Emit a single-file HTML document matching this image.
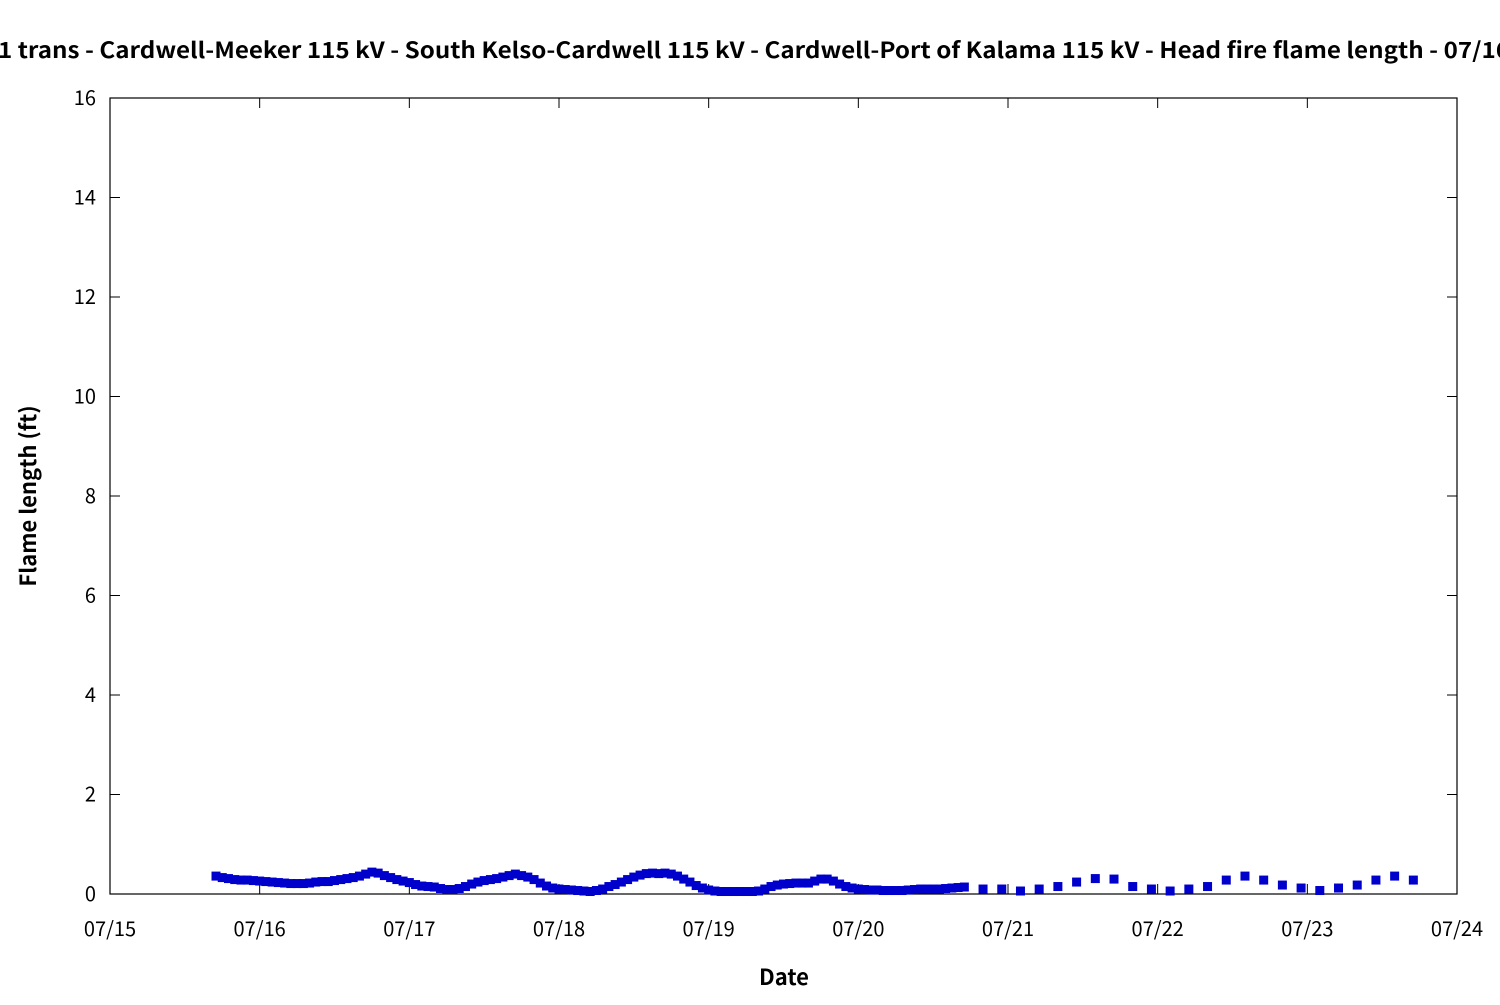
<!DOCTYPE html>
<html><head><meta charset="utf-8"><style>
body{margin:0;background:#fff;width:1500px;height:1000px;overflow:hidden}
svg text{font-family:"Noto Sans CJK JP","DejaVu Sans",sans-serif}
</style></head><body>
<svg width="1500" height="1000" xmlns="http://www.w3.org/2000/svg">
<text x="-2" y="58" font-size="22" font-weight="bold" textLength="1512" lengthAdjust="spacingAndGlyphs">1 trans - Cardwell-Meeker 115 kV - South Kelso-Cardwell 115 kV - Cardwell-Port of Kalama 115 kV - Head fire flame length - 07/16</text>
<g id="axes"></g><g id="pts"></g>
<text x="784" y="985" font-size="22" font-weight="bold" text-anchor="middle">Date</text>
<text transform="translate(36,496) rotate(-90)" font-size="22" font-weight="bold" text-anchor="middle">Flame length (ft)</text>
</svg>
<script>
const yTicks=[0,2,4,6,8,10,12,14,16];
const xTickLabels=["07/15","07/16","07/17","07/18","07/19","07/20","07/21","07/22","07/23","07/24"];
// hourly values from 07/15 17:00
const hourlyStartHour=17;
const hourlyValues=[0.36,0.33,0.31,0.29,0.28,0.28,0.27,
0.26,0.25,0.24,0.23,0.22,0.21,0.21,0.21,0.22,0.24,0.25,0.25,0.27,0.29,0.31,0.33,0.36,0.40,0.44,0.42,0.37,0.33,0.29,0.26,
0.23,0.19,0.16,0.15,0.14,0.11,0.09,0.09,0.11,0.15,0.2,0.24,0.27,0.29,0.31,0.34,0.37,0.40,0.37,0.34,0.29,0.22,0.16,0.12,
0.1,0.09,0.08,0.07,0.06,0.05,0.07,0.1,0.15,0.19,0.24,0.29,0.34,0.38,0.41,0.42,0.41,0.42,0.4,0.36,0.3,0.24,0.17,0.12,
0.08,0.06,0.05,0.05,0.05,0.05,0.05,0.05,0.06,0.1,0.15,0.18,0.2,0.21,0.22,0.22,0.22,0.26,0.3,0.3,0.26,0.2,0.15,0.12,
0.1,0.09,0.08,0.08,0.07,0.07,0.07,0.07,0.08,0.09,0.1,0.1,0.1,0.1,0.11,0.12,0.13,0.14];
// 3-hourly values from 07/20 20:00
const threeHourStartHour=5*24+20;
const threeHourValues=[0.1,0.1,0.06,0.1,0.15,0.24,0.31,0.3,0.15,0.1,0.06,0.1,0.15,0.28,0.36,0.28,0.18,0.12,0.07,0.12,0.18,0.28,0.36,0.28];
const L=110,R=1457,T=98,B=894;
const xS=h=>L+(R-L)*h/(9*24);
const yS=v=>B-(B-T)*v/16;
const NS="http://www.w3.org/2000/svg";
const ax=document.getElementById('axes'),pg=document.getElementById('pts');
function mk(t,a,p){const e=document.createElementNS(NS,t);for(const k in a)e.setAttribute(k,a[k]);p.appendChild(e);return e;}
const fr=mk('rect',{x:L,y:T,width:R-L,height:B-T,fill:'none',stroke:'#000','stroke-width':1.2},ax);


yTicks.forEach(v=>{const y=yS(v);
mk('line',{x1:L,x2:L+10,y1:y,y2:y,stroke:'#000'},ax);
mk('line',{x1:R-10,x2:R,y1:y,y2:y,stroke:'#000'},ax);
const t=mk('text',{x:96,y:y+7,'font-size':20,'text-anchor':'end'},ax);t.textContent=v;

});
xTickLabels.forEach((s,i)=>{const x=xS(i*24);
mk('line',{x1:x,x2:x,y1:B,y2:B-10,stroke:'#000'},ax);
mk('line',{x1:x,x2:x,y1:T,y2:T+10,stroke:'#000'},ax);
const t=mk('text',{x:x,y:936,'font-size':20,'text-anchor':'middle'},ax);t.textContent=s;

});
function pt(h,v){const r=mk('rect',{x:xS(h)-4.5,y:yS(v)-4.5,width:9,height:9,fill:'#0000cd'},pg);

}
hourlyValues.forEach((v,i)=>pt(hourlyStartHour+i,v));
threeHourValues.forEach((v,i)=>pt(threeHourStartHour+3*i,v));
</script>
</body></html>
